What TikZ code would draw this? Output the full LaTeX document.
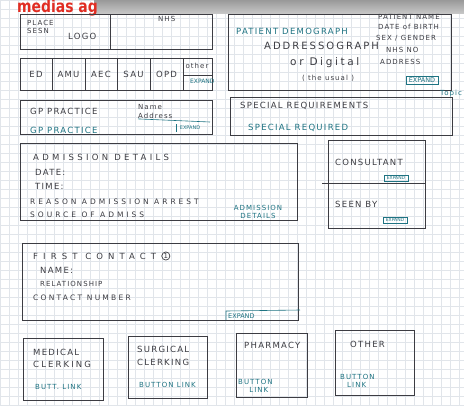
\documentclass[tikz,border=0pt]{standalone}
\usepackage{fontspec}
\setsansfont{DejaVu Sans}
\newfontfamily\handfont[LetterSpace=15]{DejaVu Sans}
\newcommand{\spread}[1]{\addfontfeature{LetterSpace=#1}}
\usetikzlibrary{positioning}
\definecolor{ink}{RGB}{60,60,66}
\definecolor{tealink}{RGB}{30,115,130}
\definecolor{gridcol}{RGB}{225,229,234}
\definecolor{logored}{RGB}{225,45,35}

\tikzset{
  sketchbox/.style={draw=ink, line width=0.9pt},
  hand/.style={font=\handfont\fontsize{8.5}{9}\selectfont, text=ink, anchor=west, inner sep=0pt},
  small/.style={hand, font=\handfont\fontsize{7}{8}\selectfont},
  tealtxt/.style={hand, text=tealink},
  tealsmall/.style={small, text=tealink},
  expandbtn/.style={draw=tealink, line width=0.6pt, font=\sffamily\fontsize{5}{5}\selectfont, text=tealink, inner xsep=3pt, inner ysep=1.5pt}
}

\begin{document}
\begin{tikzpicture}[x=1pt,y=-1pt]
    \useasboundingbox (0,0) rectangle (464,405);
    \fill[white] (0,0) rectangle (464,405);
    \foreach \gx in {0,9,...,464} \draw[gridcol, line width=0.3pt] (\gx,0) -- (\gx,405);%grid paper
    \foreach \gy in {0,9,...,405} \draw[gridcol, line width=0.3pt] (0,\gy) -- (464,\gy);
    \shade[top color=gray!80, bottom color=gray!45] (94,0) rectangle (464,13);%scan edge
    \node[font=\sffamily\bfseries\fontsize{17}{17}\selectfont, text=logored, anchor=west, inner sep=0pt, xscale=0.82] (brand) at (17,8) {medias ag};

    % header
    \draw[sketchbox] (20,14) rectangle (212,49);
    \draw[sketchbox] (110,14) -- (110,49);
    \node[small] (place) at (27,23) {PLACE};
    \node[small] (sesn) at (27,31) {SESN};
    \node[hand] (logo) at (68,36) {LOGO};
    \node[small] (nhs) at (158,19) {NHS};

    % tabs
    \draw[sketchbox] (20,58) rectangle (212,90);
    \foreach \xx in {52,85,117,150,183} \draw[sketchbox] (\xx,58) -- (\xx,90);
    \node[hand, anchor=center] (ed) at (36,74) {ED};
    \node[hand, anchor=center] (amu) at (68.5,74) {AMU};
    \node[hand, anchor=center] (aec) at (101,74) {AEC};
    \node[hand, anchor=center] (sau) at (133.5,74) {SAU};
    \node[hand, anchor=center] (opd) at (166.5,74) {OPD};
    \node[small, anchor=center] (other) at (197,66) {other};
    \draw[sketchbox, line width=0.6pt] (183,75) -- (212,75);
    \node[tealsmall, font=\sffamily\fontsize{6}{6}\selectfont] (tabexp) at (190,81) {EXPAND};

    % patient demographics
    \draw[sketchbox] (228,14) rectangle (451,90);
    \node[tealtxt] (demo) at (236,31) {PATIENT DEMOGRAPH};
    \node[hand, font=\handfont\spread{20}\fontsize{10}{11}\selectfont] (addr) at (264,46) {ADDRESSOGRAPH};
    \node[hand, font=\handfont\spread{25}\fontsize{10.5}{11}\selectfont] (digital) at (290,63) {or Digital};
    \node[small] (usual) at (302,78) {( the usual )};
    \node[small] (pname) at (378,17) {PATIENT NAME};
    \node[small] (dob) at (378,27) {DATE of BIRTH};
    \node[small] (sex) at (376,38) {SEX / GENDER};
    \node[small] (nhsno) at (386,50) {NHS NO};
    \node[small] (paddr) at (380,62) {ADDRESS};
    \node[expandbtn, font=\sffamily\fontsize{6.5}{6.5}\selectfont] (demoexp) at (422,80) {EXPAND};
    \node[tealsmall] (topic) at (440,94) {Topic};

    % GP practice
    \draw[sketchbox] (20,100) rectangle (212,134);
    \node[hand] (gp) at (30,111) {GP PRACTICE};
    \node[small] (gpname) at (138,107) {Name};
    \node[small] (gpaddr) at (138,116) {Address};
    \draw[tealink, line width=0.6pt] (gpaddr.south west) -- (210,122);
    \node[tealtxt] (gpval) at (30,130) {GP PRACTICE};
    \node[expandbtn, draw=none] (gpexp) at (190,128) {EXPAND};
    \draw[tealink, line width=0.6pt] (gpexp.north west) -- (gpexp.south west);

    % special requirements
    \draw[sketchbox] (230,97) rectangle (452,135);
    \node[hand] (spec) at (240,106) {SPECIAL REQUIREMENTS};
    \node[tealtxt] (specval) at (248,128) {SPECIAL REQUIRED};

    % admission details
    \draw[sketchbox] (20,143) rectangle (297,220);
    \node[hand, font=\handfont\spread{39}\fontsize{8.5}{9}\selectfont] (adm) at (33,157) {ADMISSION DETAILS};
    \node[hand] (date) at (35,172) {DATE:};
    \node[hand] (time) at (35,186) {TIME:};
    \node[hand, font=\handfont\spread{40}\fontsize{7.5}{8}\selectfont] (reason) at (30,202) {REASON ADMISSION ARREST};
    \node[hand, font=\handfont\spread{40}\fontsize{7.5}{8}\selectfont] (source) at (30,215) {SOURCE OF ADMISS};
    \node[tealsmall, align=center, anchor=center] (admval) at (258,212) {ADMISSION\\DETAILS};

    % consultant / seen by
    \draw[sketchbox] (328,140) rectangle (425,228);
    \draw[sketchbox] (322,183) -- (425,183);
    \node[hand] (cons) at (335,162) {CONSULTANT};
    \node[expandbtn, font=\sffamily\fontsize{4.5}{4.5}\selectfont] (consexp) at (396,178) {EXPAND};
    \node[hand] (seen) at (335,204) {SEEN BY};
    \node[expandbtn, font=\sffamily\fontsize{4.5}{4.5}\selectfont] (seenexp) at (395,220) {EXPAND};

    % first contact
    \draw[sketchbox] (22,243) rectangle (298,320);
    \node[hand, font=\handfont\spread{60}\fontsize{8.5}{9}\selectfont] (first) at (33,256) {FIRST CONTACT};
    \node[draw=ink, circle, line width=0.7pt, inner sep=0.5pt, font=\sffamily\fontsize{7}{7}\selectfont, text=ink, right=5pt of first] (one) {1};
    \node[hand] (name) at (40,270) {NAME:};
    \node[small] (rel) at (40,284) {RELATIONSHIP};
    \node[hand, font=\handfont\spread{30}\fontsize{7.5}{8}\selectfont] (num) at (33,298) {CONTACT NUMBER};
    \node[tealsmall, font=\sffamily\fontsize{6.5}{6.5}\selectfont] (fcexp) at (228,316) {EXPAND};
    \draw[tealink, line width=0.6pt] (226,320) -- (226,311) -- (300,310);

    % button links
    \draw[sketchbox] (23,338) rectangle (103,400);
    \node[hand] (med) at (33,352) {MEDICAL};
    \node[hand, font=\handfont\spread{25}\fontsize{8.5}{9}\selectfont] (medc) at (33,364) {CLERKING};
    \node[tealsmall] (medlink) at (35,387) {BUTT. LINK};

    \draw[sketchbox] (128,336) rectangle (207,398);
    \node[hand] (surg) at (137,349) {SURGICAL};
    \node[hand] (surgc) at (137,362) {CLERKING};
    \node[tealsmall] (surglink) at (139,385) {BUTTON LINK};

    \draw[sketchbox] (236,333) rectangle (307,397);
    \node[hand] (pharm) at (244,345) {PHARMACY};
    \node[tealsmall, align=center] (pharmlink) at (238,386) {BUTTON\\\quad LINK};

    \draw[sketchbox] (335,330) rectangle (414,395);
    \node[hand] (oth) at (350,344) {OTHER};
    \node[tealsmall, align=left] (othlink) at (340,381) {BUTTON\\\quad LINK};
\end{tikzpicture}
\end{document}
